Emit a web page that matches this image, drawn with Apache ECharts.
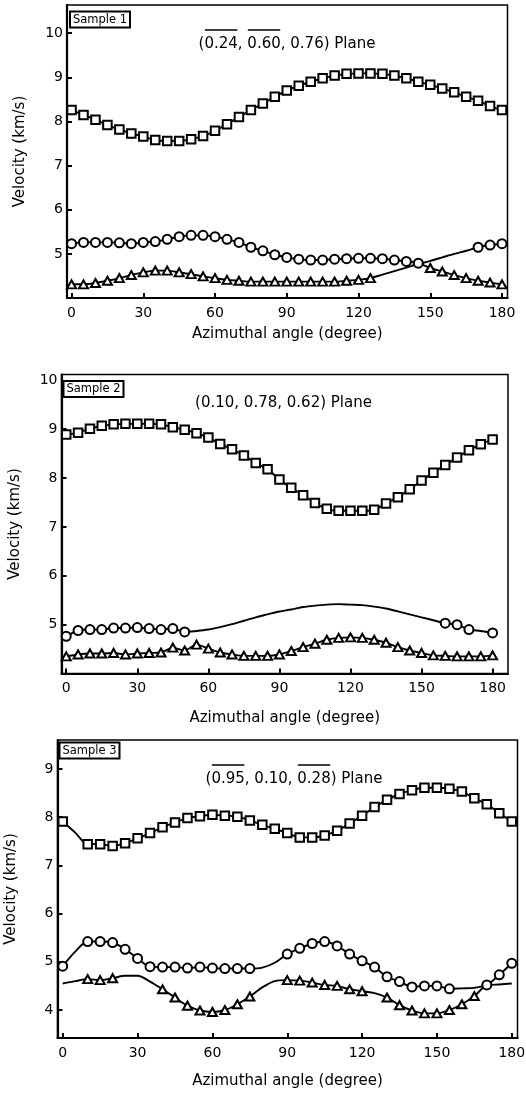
<!DOCTYPE html>
<html>
<head>
<meta charset="utf-8">
<title>Velocity vs azimuthal angle</title>
<script src="https://cdn.jsdelivr.net/npm/echarts@6/dist/echarts.min.js"></script>
<style>
  html, body { margin: 0; padding: 0; background: #fff; }
  #chart { width: 526px; height: 1095px; }
</style>
</head>
<body>
<div id="chart"></div>
<script>
// azimuthal angle (degree), one value every 5 degrees
const angles = [0, 5, 10, 15, 20, 25, 30, 35, 40, 45, 50, 55, 60, 65, 70, 75, 80, 85, 90,
  95, 100, 105, 110, 115, 120, 125, 130, 135, 140, 145, 150, 155, 160, 165, 170, 175, 180]
const xTicks = [0, 30, 60, 90, 120, 150, 180]

// ---- Sample 1 : measured points (null = no marker) ----
const sq1 = [8.26, 8.15, 8.04, 7.92, 7.82, 7.73, 7.66, 7.58, 7.56, 7.56, 7.60, 7.67, 7.79, 7.94, 8.10, 8.26, 8.41, 8.56, 8.70,
  8.81, 8.90, 8.98, 9.04, 9.08, 9.09, 9.09, 9.08, 9.04, 8.98, 8.90, 8.83, 8.75, 8.66, 8.56, 8.47, 8.35, 8.26]
const ci1 = [5.23, 5.26, 5.26, 5.26, 5.25, 5.23, 5.26, 5.28, 5.33, 5.39, 5.42, 5.42, 5.39, 5.33, 5.26, 5.15, 5.07, 4.98, 4.92,
  4.88, 4.86, 4.86, 4.88, 4.89, 4.90, 4.90, 4.89, 4.86, 4.83, 4.79, null, null, null, null, 5.15, 5.20, 5.23]
const tr1 = [4.31, 4.31, 4.34, 4.39, 4.45, 4.52, 4.58, 4.62, 4.62, 4.58, 4.54, 4.49, 4.45, 4.41, 4.39, 4.37, 4.37, 4.37, 4.37,
  4.37, 4.37, 4.37, 4.37, 4.39, 4.41, 4.45, null, null, null, null, 4.68, 4.60, 4.52, 4.45, 4.39, 4.35, 4.31]
// Sample 1 : calculated curves
const curve1Top = sq1
const curve1Mid = [5.23, 5.26, 5.26, 5.26, 5.25, 5.23, 5.26, 5.28, 5.33, 5.39, 5.42, 5.42, 5.39, 5.33, 5.26, 5.15, 5.07, 4.98, 4.92,
  4.88, 4.86, 4.86, 4.88, 4.89, 4.90, 4.90, 4.89, 4.86, 4.83, 4.79, 4.68, 4.60, 4.52, 4.45, 4.39, 4.35, 4.31]
const curve1Low = [4.31, 4.31, 4.34, 4.39, 4.45, 4.52, 4.58, 4.62, 4.62, 4.58, 4.54, 4.49, 4.45, 4.41, 4.39, 4.37, 4.37, 4.37, 4.37,
  4.37, 4.37, 4.37, 4.37, 4.39, 4.41, 4.45, 4.53, 4.61, 4.69, 4.77, 4.84, 4.92, 5.00, 5.07, 5.15, 5.20, 5.23]

// ---- Sample 2 ----
const sq2 = [8.89, 8.93, 9.01, 9.07, 9.10, 9.11, 9.11, 9.11, 9.10, 9.04, 8.99, 8.92, 8.83, 8.70, 8.59, 8.46, 8.31, 8.18, 7.97,
  7.80, 7.65, 7.49, 7.37, 7.33, 7.33, 7.33, 7.35, 7.48, 7.61, 7.77, 7.95, 8.11, 8.27, 8.42, 8.57, 8.69, 8.79]
const ci2 = [4.76, 4.88, 4.90, 4.90, 4.93, 4.93, 4.94, 4.92, 4.90, 4.92, 4.85, null, null, null, null, null, null, null, null,
  null, null, null, null, null, null, null, null, null, null, null, null, null, 5.03, 5.00, 4.90, null, 4.83]
const tr2 = [4.35, 4.39, 4.41, 4.41, 4.42, 4.39, 4.41, 4.42, 4.43, 4.53, 4.47, 4.59, 4.51, 4.43, 4.39, 4.36, 4.36, 4.36, 4.39,
  4.46, 4.54, 4.61, 4.69, 4.73, 4.74, 4.73, 4.69, 4.63, 4.54, 4.47, 4.42, 4.37, 4.36, 4.35, 4.35, 4.35, 4.37]
const curve2Top = sq2
const curve2Mid = [4.76, 4.88, 4.90, 4.90, 4.93, 4.93, 4.94, 4.92, 4.90, 4.92, 4.85, 4.87, 4.90, 4.95, 5.01, 5.08, 5.15, 5.21, 5.27,
  5.31, 5.36, 5.39, 5.41, 5.42, 5.41, 5.40, 5.37, 5.33, 5.27, 5.21, 5.15, 5.09, 5.03, 5.00, 4.90, 4.87, 4.83]
const curve2Low = tr2

// ---- Sample 3 ----
const sq3 = [7.91, null, 7.44, 7.44, 7.40, 7.46, 7.56, 7.67, 7.79, 7.89, 7.98, 8.02, 8.05, 8.03, 8.01, 7.93, 7.84, 7.76, 7.67,
  7.58, 7.58, 7.62, 7.72, 7.87, 8.03, 8.21, 8.36, 8.48, 8.56, 8.61, 8.61, 8.59, 8.53, 8.39, 8.27, 8.08, 7.91]
const ci3 = [4.91, null, 5.42, 5.42, 5.40, 5.26, 5.07, 4.90, 4.89, 4.89, 4.87, 4.89, 4.87, 4.86, 4.86, 4.86, null, null, 5.16,
  5.28, 5.38, 5.42, 5.33, 5.16, 5.02, 4.89, 4.69, 4.59, 4.48, 4.50, 4.50, 4.44, null, null, 4.52, 4.73, 4.97]
const tr3 = [null, null, 4.64, 4.62, 4.66, null, null, null, 4.43, 4.26, 4.09, 3.99, 3.96, 4.00, 4.12, 4.28, null, null, 4.62,
  4.61, 4.57, 4.52, 4.50, 4.43, 4.39, null, 4.26, 4.10, 3.99, 3.93, 3.93, 4.00, 4.12, 4.29, null, null, null]
const curve3Top = [7.91, 7.68, 7.44, 7.44, 7.40, 7.46, 7.56, 7.67, 7.79, 7.89, 7.98, 8.02, 8.05, 8.03, 8.01, 7.93, 7.84, 7.76, 7.67,
  7.58, 7.58, 7.62, 7.72, 7.87, 8.03, 8.21, 8.36, 8.48, 8.56, 8.61, 8.61, 8.59, 8.53, 8.39, 8.27, 8.08, 7.91]
const curve3Mid = [4.91, 5.21, 5.42, 5.42, 5.40, 5.26, 5.07, 4.90, 4.89, 4.89, 4.87, 4.89, 4.87, 4.86, 4.86, 4.86, 4.88, 4.98, 5.16,
  5.28, 5.38, 5.42, 5.33, 5.16, 5.02, 4.89, 4.69, 4.59, 4.48, 4.50, 4.50, 4.44, 4.45, 4.46, 4.52, 4.73, 4.97]
const curve3Low = [4.55, 4.60, 4.64, 4.62, 4.66, 4.71, 4.71, 4.59, 4.43, 4.26, 4.09, 3.99, 3.96, 4.00, 4.12, 4.28, 4.47, 4.60, 4.62,
  4.61, 4.57, 4.52, 4.50, 4.43, 4.39, 4.35, 4.26, 4.10, 3.99, 3.93, 3.93, 4.00, 4.12, 4.29, 4.51, 4.53, 4.55]

const FONT = 'DejaVu Sans'

// one entry per panel
const panels = [
  {
    sample: 'Sample 1',
    plane: ['(', ['0.24'], ', ', ['0.60'], ', 0.76) Plane'],
    grid: { left: 67, top: 5, width: 440.5, height: 293 },
    xRange: [-1.9, 182.3], yRange: [4.0, 10.64], yTicks: [5, 6, 7, 8, 9, 10],
    xNameGap: 29, label: [70, 11.5], title: [287, 44],
    markers: [sq1, ci1, tr1], curves: [curve1Top, curve1Mid, curve1Low]
  },
  {
    sample: 'Sample 2',
    plane: ['(0.10, 0.78, 0.62) Plane'],
    grid: { left: 61.5, top: 374.5, width: 446.5, height: 299 },
    xRange: [-2.0, 186.5], yRange: [4.0, 10.12], yTicks: [5, 6, 7, 8, 9, 10],
    xNameGap: 37, label: [63.5, 381], title: [283.5, 403],
    markers: [sq2, ci2, tr2], curves: [curve2Top, curve2Mid, curve2Low]
  },
  {
    sample: 'Sample 3',
    plane: ['(', ['0.95'], ', 0.10, ', ['0.28'], ') Plane'],
    grid: { left: 57.5, top: 740, width: 460, height: 298 },
    xRange: [-2.1, 182.3], yRange: [3.42, 9.6], yTicks: [4, 5, 6, 7, 8, 9],
    xNameGap: 36, label: [59.5, 742.5], title: [294, 779],
    markers: [sq3, ci3, tr3], curves: [curve3Top, curve3Mid, curve3Low]
  }
]

const symbols = [
  { symbol: 'rect', size: 8.5 },
  { symbol: 'circle', size: 9 },
  { symbol: 'triangle', size: [9, 8] }
]

const pairs = arr => angles.map((a, i) => [a, arr[i]]).filter(p => p[1] !== null)

// plane title with overlined indices (text measured to place the bars)
const ctx = document.createElement('canvas').getContext('2d')
const titleFont = '15px "' + FONT + '"'
ctx.font = titleFont
function planeTitle (parts, cx, cy) {
  const text = parts.map(p => Array.isArray(p) ? p[0] : p).join('')
  const total = ctx.measureText(text).width
  const x0 = cx - total / 2
  const els = [{
    type: 'text', x: x0, y: cy,
    style: { text: text, font: titleFont, fill: '#000', textAlign: 'left', textVerticalAlign: 'middle' }
  }]
  let acc = ''
  parts.forEach(p => {
    const s = Array.isArray(p) ? p[0] : p
    const start = ctx.measureText(acc).width
    acc += s
    if (Array.isArray(p)) {
      const end = ctx.measureText(acc).width
      els.push({
        type: 'line',
        shape: { x1: x0 + start + 0.5, y1: cy - 14, x2: x0 + end - 0.5, y2: cy - 14 },
        style: { stroke: '#000', lineWidth: 1.3 }
      })
    }
  })
  return els
}

const axisText = { color: '#000', fontFamily: FONT, fontSize: 14 }
const nameText = { color: '#000', fontFamily: FONT, fontSize: 15 }

const option = {
  backgroundColor: '#fff',
  animation: false,
  title: panels.map(p => ({
    text: p.sample,
    left: p.label[0], top: p.label[1],
    padding: [2, 3, 1, 3],
    borderColor: '#000', borderWidth: 2,
    textStyle: { fontFamily: FONT, fontSize: 11.5, fontWeight: 'normal', color: '#000', lineHeight: 13 }
  })),
  grid: panels.map(p => Object.assign({
    show: true, borderColor: '#000', borderWidth: 1.5,
    containLabel: false, outerBoundsMode: 'none'
  }, p.grid)),
  xAxis: panels.map((p, i) => ({
    type: 'value', gridIndex: i, min: p.xRange[0], max: p.xRange[1],
    name: 'Azimuthal angle (degree)', nameLocation: 'middle', nameGap: p.xNameGap, nameTextStyle: nameText,
    axisLine: { onZero: false, lineStyle: { color: '#000', width: 2.2 } },
    axisTick: { inside: true, length: 5, customValues: xTicks, lineStyle: { color: '#000', width: 2 } },
    axisLabel: Object.assign({ customValues: xTicks, margin: 8 }, axisText),
    splitLine: { show: false }
  })),
  yAxis: panels.map((p, i) => ({
    type: 'value', gridIndex: i, min: p.yRange[0], max: p.yRange[1],
    name: 'Velocity (km/s)', nameLocation: 'middle', nameRotate: 90, nameGap: 39, nameTextStyle: nameText,
    axisLine: { onZero: false, lineStyle: { color: '#000', width: 2.2 } },
    axisTick: { inside: true, length: 5, customValues: p.yTicks, lineStyle: { color: '#000', width: 2 } },
    axisLabel: Object.assign({ customValues: p.yTicks, margin: 4 }, axisText),
    splitLine: { show: false }
  })),
  graphic: panels.flatMap(p => planeTitle(p.plane, p.title[0], p.title[1])),
  series: []
}

panels.forEach((p, i) => {
  p.curves.forEach(c => {
    option.series.push({
      type: 'line', xAxisIndex: i, yAxisIndex: i, data: pairs(c),
      showSymbol: false, smooth: 0.3, silent: true, z: 2,
      lineStyle: { color: '#000', width: 1.9 }
    })
  })
  p.markers.forEach((m, k) => {
    option.series.push({
      type: 'scatter', xAxisIndex: i, yAxisIndex: i, data: pairs(m),
      symbol: symbols[k].symbol, symbolSize: symbols[k].size, z: 3,
      itemStyle: { color: '#fff', borderColor: '#000', borderWidth: 2, opacity: 1 }
    })
  })
})

const chart = echarts.init(document.getElementById('chart'))
chart.setOption(option)
</script>
</body>
</html>
